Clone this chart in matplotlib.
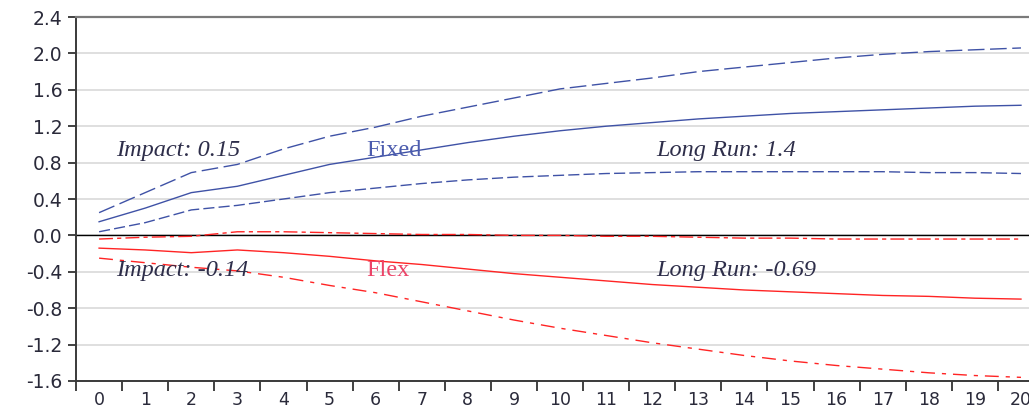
import matplotlib
matplotlib.use("Agg")
import matplotlib.pyplot as plt
from matplotlib.ticker import FixedLocator, NullFormatter

horizon = list(range(21))

fixed_mid = [0.15, 0.30, 0.47, 0.54, 0.66, 0.78, 0.86, 0.94, 1.02, 1.09, 1.15,
             1.20, 1.24, 1.28, 1.31, 1.34, 1.36, 1.38, 1.40, 1.42, 1.43]
fixed_hi = [0.25, 0.47, 0.69, 0.78, 0.95, 1.09, 1.19, 1.31, 1.41, 1.51, 1.61,
            1.67, 1.73, 1.80, 1.85, 1.90, 1.95, 1.99, 2.02, 2.04, 2.06]
fixed_lo = [0.04, 0.14, 0.28, 0.33, 0.40, 0.47, 0.52, 0.57, 0.61, 0.64, 0.66,
            0.68, 0.69, 0.70, 0.70, 0.70, 0.70, 0.70, 0.69, 0.69, 0.68]

flex_mid = [-0.14, -0.16, -0.19, -0.16, -0.19, -0.23, -0.28, -0.32, -0.37, -0.42, -0.46,
            -0.50, -0.54, -0.57, -0.60, -0.62, -0.64, -0.66, -0.67, -0.69, -0.70]
flex_hi = [-0.04, -0.02, -0.01, 0.04, 0.04, 0.03, 0.02, 0.01, 0.01, 0.00, 0.00,
           -0.01, -0.01, -0.02, -0.03, -0.03, -0.04, -0.04, -0.04, -0.04, -0.04]
flex_lo = [-0.25, -0.30, -0.35, -0.39, -0.46, -0.55, -0.63, -0.73, -0.83, -0.93, -1.02,
           -1.10, -1.18, -1.25, -1.32, -1.38, -1.43, -1.47, -1.51, -1.54, -1.56]

y_ticks = [-1.6, -1.2, -0.8, -0.4, 0.0, 0.4, 0.8, 1.2, 1.6, 2.0, 2.4]

blue = '#3f52a6'
red = '#ff2424'

fig = plt.figure(figsize=(10.29, 4.07), dpi=100)
ax = fig.add_axes([0.0739, 0.0639, 0.9407, 0.8943])

# horizontal grid + zero line
for v in y_ticks:
    ax.axhline(v, color='#d9d9d9', lw=1.2, zorder=0)
ax.axhline(0, color='black', lw=1.0, zorder=1)

# Fixed
ax.plot(horizon, fixed_mid, color=blue, lw=1.0)
ax.plot(horizon, fixed_hi, color=blue, lw=1.0, dashes=(12, 4))
ax.plot(horizon, fixed_lo, color=blue, lw=1.0, dashes=(8, 3))

# Flex
ax.plot(horizon, flex_mid, color=red, lw=1.0)
ax.plot(horizon, flex_hi, color=red, lw=1.0, dashes=(10, 3, 3, 3))
ax.plot(horizon, flex_lo, color=red, lw=1.0, dashes=(10, 5, 3, 5))

# annotations
txt = '#2e2e4a'
fs = 17.5
ax.text(0.37, 0.93, 'Impact: 0.15', family='Liberation Serif', style='italic',
        fontsize=fs, color=txt, va='center')
ax.text(5.79, 0.93, 'Fixed', family='Liberation Serif', fontsize=fs,
        color='#4c5cae', va='center')
ax.text(12.08, 0.93, 'Long Run: 1.4', family='Liberation Serif', style='italic',
        fontsize=fs, color=txt, va='center')
ax.text(0.37, -0.385, 'Impact: -0.14', family='Liberation Serif', style='italic',
        fontsize=fs, color=txt, va='center')
ax.text(5.79, -0.385, 'Flex', family='Liberation Serif', fontsize=fs,
        color='#ec4468', va='center')
ax.text(12.08, -0.385, 'Long Run: -0.69', family='Liberation Serif', style='italic',
        fontsize=fs, color=txt, va='center')

ax.set_xlim(-0.5, 20.5)
ax.set_ylim(-1.6, 2.4)

# ticks between periods, labels at periods
ax.xaxis.set_major_locator(FixedLocator([i - 0.5 for i in range(22)]))
ax.xaxis.set_major_formatter(NullFormatter())
ax.set_xticks(horizon, minor=True)
ax.set_xticklabels([str(h) for h in horizon], minor=True)
ax.tick_params(axis='x', which='major', direction='out', length=7, width=1.3, color='#333333')
ax.tick_params(axis='x', which='minor', length=0, pad=7)
ax.set_yticks(y_ticks)
ax.set_yticklabels(['%.1f' % v for v in y_ticks])
ax.tick_params(axis='y', direction='out', length=6, width=1.3, color='#333333', pad=4)

for lab in ax.get_yticklabels():
    lab.set_family('DejaVu Sans')
    lab.set_fontsize(13.5)
    lab.set_color('#2a2a3a')
for lab in ax.get_xticklabels(minor=True):
    lab.set_family('DejaVu Sans')
    lab.set_fontsize(12.5)
    lab.set_color('#2a2a3a')

ax.spines['top'].set_color('#7a7a7a')
ax.spines['top'].set_linewidth(1.6)
ax.spines['right'].set_visible(False)
ax.spines['left'].set_color('#3a3a3a')
ax.spines['left'].set_linewidth(1.4)
ax.spines['bottom'].set_color('#3a3a3a')
ax.spines['bottom'].set_linewidth(1.4)

fig.savefig('out.png', dpi=100)
